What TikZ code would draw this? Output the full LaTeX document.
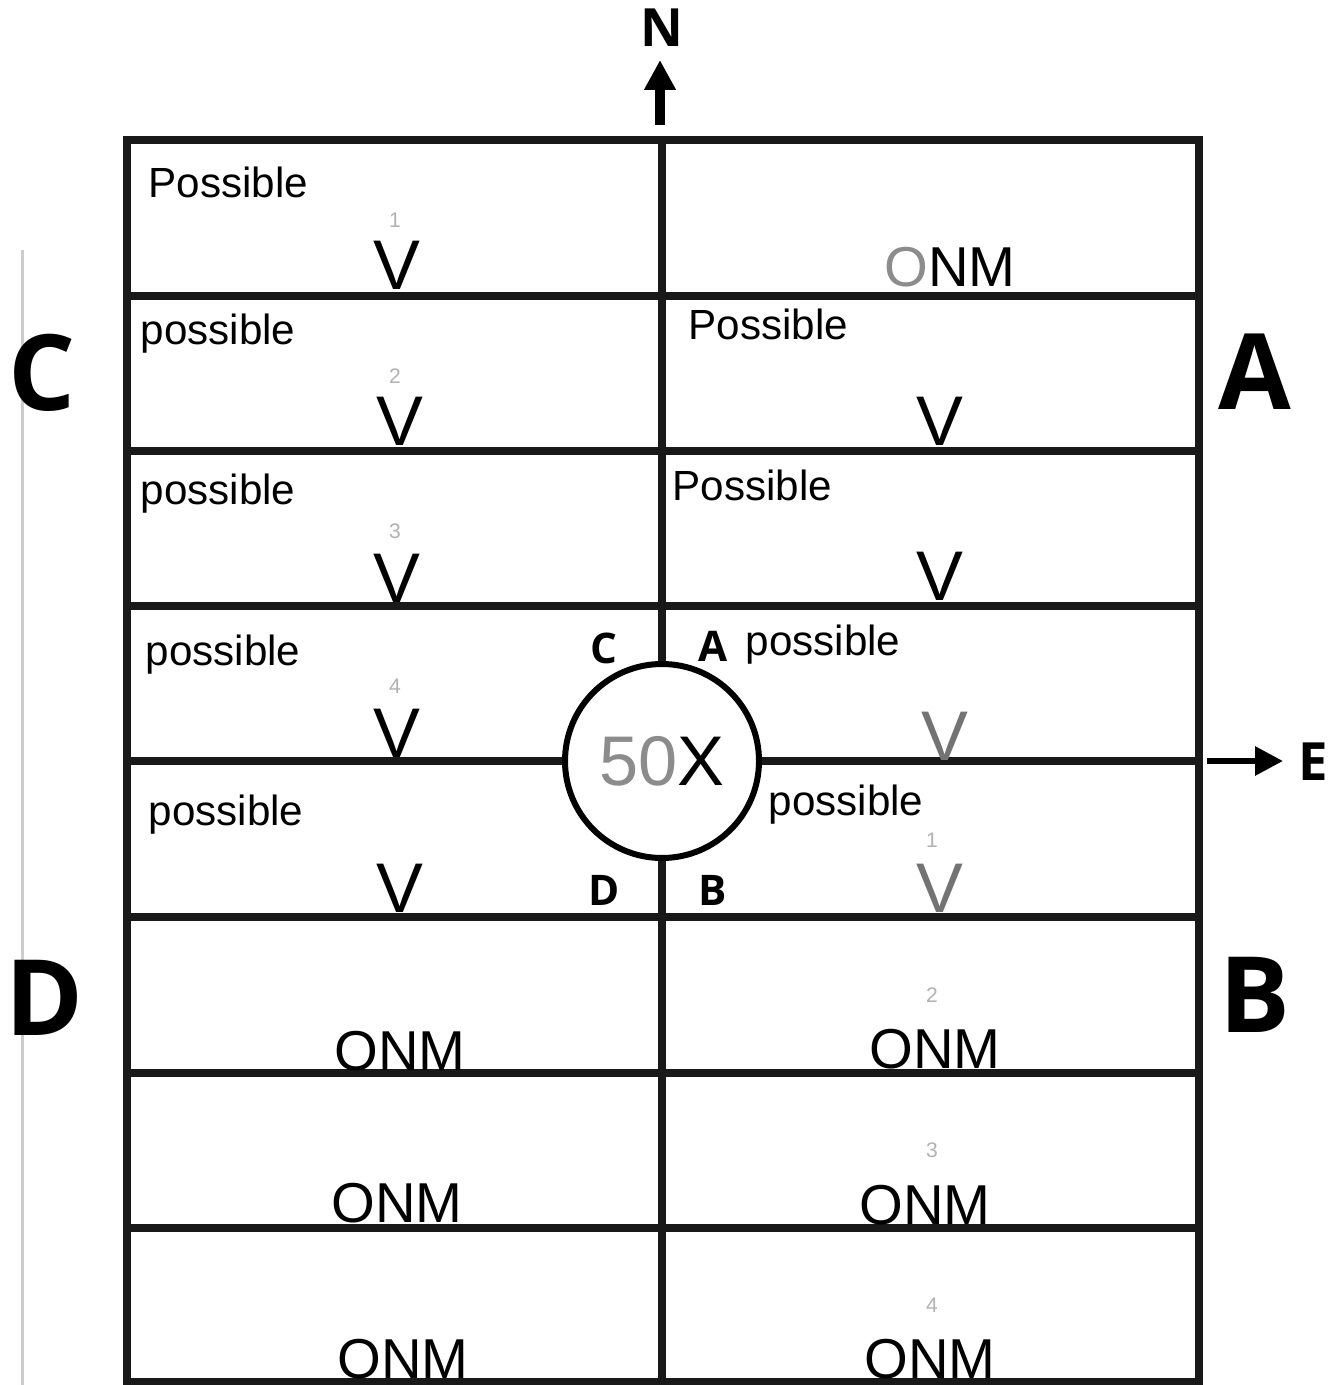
\documentclass[tikz,border=0pt]{standalone}
\usepackage{fontspec}
\setmainfont{Liberation Sans}
\newfontfamily\labfont{Open Sans}
\usetikzlibrary{arrows.meta}

\begin{document}
\begin{tikzpicture}[x=0.1mm, y=-0.1mm,
    grid/.style={line width=0.75mm, black!90},
    hand/.style={font=\fontsize{12}{12}\selectfont, anchor=base west, inner sep=0pt},
    tick/.style={font=\fontsize{20}{20}\selectfont, anchor=base, inner sep=0pt},
    onm/.style={font=\fontsize{16}{16}\selectfont, anchor=base, inner sep=0pt},
    num/.style={font=\fontsize{6}{6}\selectfont, text=black!30, inner sep=0pt},
    big/.style={font=\labfont\bfseries\fontsize{30}{30}\selectfont, inner sep=0pt},
    small/.style={font=\labfont\bfseries\fontsize{12}{12}\selectfont, inner sep=0pt},
    compass/.style={font=\labfont\bfseries\fontsize{15}{15}\selectfont, inner sep=0pt},
    ar/.style={-{Triangle[length=3mm, width=3mm]}, line width=1mm}
  ]
    \useasboundingbox[fill=white] (0,0) rectangle (1339,1385);
    \draw[black!20, line width=0.3mm] (22,250) -- (22,1385);

    \draw[grid] (127,140) rectangle (1199,1382);
    \foreach \y in {296,451,606,917,1073,1228}
      \draw[grid] (127,\y) -- (1199,\y);

    \node[draw, circle, line width=0.6mm, minimum size=19.4mm, fill=white] (hub) at (662,761) {};
    \draw[grid] (662,140) -- (hub.north);
    \draw[grid] (hub.south) -- (662,1382);
    \draw[grid] (127,761) -- (hub.west);
    \draw[grid] (hub.east) -- (1199,761);
    \node[font=\fontsize{20}{20}\selectfont] (mark) at (hub.center) {{\color{black!45}50}X};

    \node[compass] (north) at (662,28) {N};
    \coordinate (nfoot) at (660,125);
    \coordinate (ntip) at (660,60);
    \draw[ar] (nfoot) -- (ntip);
    \node[compass] (east) at (1313,762) {E};
    \coordinate (etail) at (1207,761);
    \coordinate (etip) at (1283,761);
    \draw[-{Triangle[length=2.8mm, width=2.8mm]}, line width=0.6mm] (etail) -- (etip);

    \node[big] (quadC) at (42,373) {C};
    \node[big] (quadA) at (1255,372) {A};
    \node[big] (quadD) at (45,998) {D};
    \node[big] (quadB) at (1255,995) {B};

    \node[small] (hubC) at (604,648) {C};
    \node[small] (hubA) at (713,646) {A};
    \node[small] (hubD) at (604,890) {D};
    \node[small] (hubB) at (713,890) {B};

    \node[hand] (l1) at (148,198) {Possible};
    \node[hand] (l2) at (140,345) {possible};
    \node[hand] (l3) at (140,505) {possible};
    \node[hand] (l4) at (145,665) {possible};
    \node[hand] (l5) at (148,825) {possible};
    \node[hand] (r2) at (688,340) {Possible};
    \node[hand] (r3) at (672,500) {Possible};
    \node[hand] (r4) at (745,655) {possible};
    \node[hand] (r5) at (768,815) {possible};

    \node[tick] (v1) at (397,290) {V};
    \node[tick] (v2) at (400,446) {V};
    \node[tick] (v3) at (397,602) {V};
    \node[tick] (v4) at (397,757) {V};
    \node[tick] (v5) at (400,912) {V};
    \node[tick] (w2) at (940,446) {V};
    \node[tick] (w3) at (940,600) {V};
    \node[tick, text=black!55] (w4) at (945,760) {V};
    \node[tick, text=black!55] (w5) at (940,912) {V};

    \node[num] (n1) at (395,220) {1};
    \node[num] (n2) at (395,376) {2};
    \node[num] (n3) at (395,531) {3};
    \node[num] (n4) at (395,686) {4};
    \node[num] (m1) at (932,840) {1};
    \node[num] (m2) at (932,995) {2};
    \node[num] (m3) at (932,1150) {3};
    \node[num] (m4) at (932,1305) {4};

    \node[onm] (o0) at (950,287) {{\color{black!45}O}NM};
    \node[onm] (o1) at (400,1070) {ONM};
    \node[onm] (o2) at (397,1222) {ONM};
    \node[onm] (o3) at (403,1378) {ONM};
    \node[onm] (o4) at (935,1068) {ONM};
    \node[onm] (o5) at (925,1224) {ONM};
    \node[onm] (o6) at (930,1378) {ONM};
\end{tikzpicture}
\end{document}
